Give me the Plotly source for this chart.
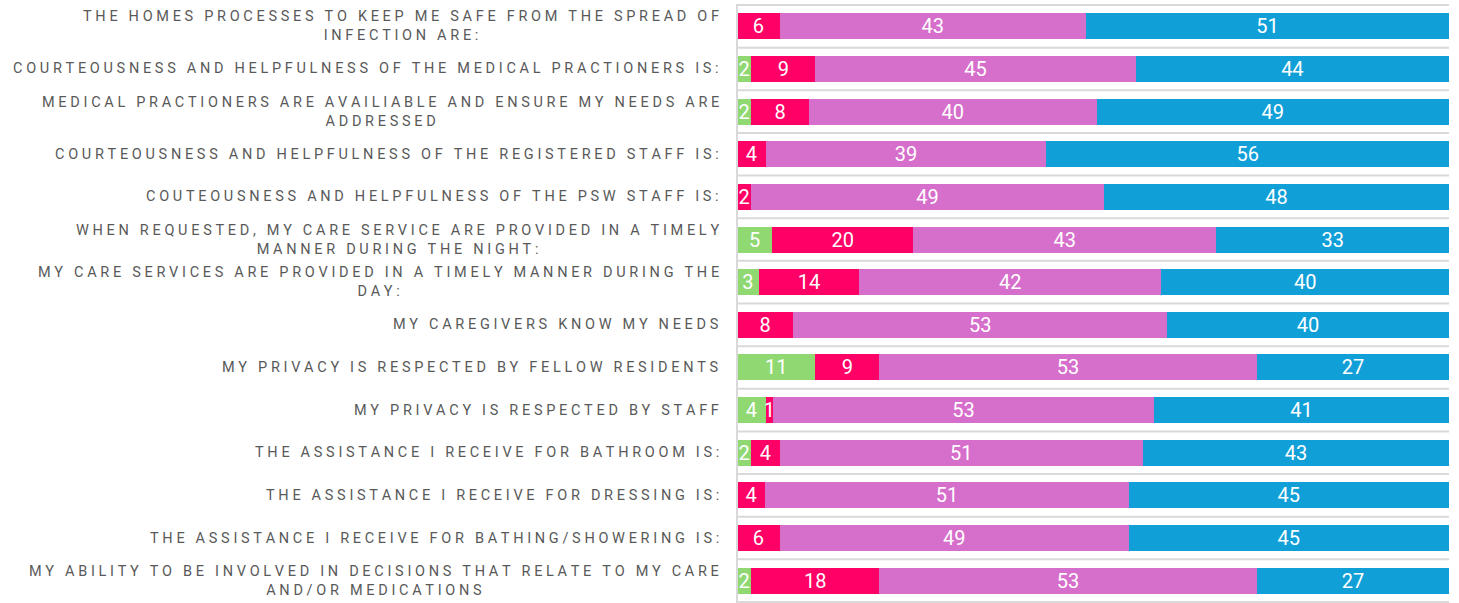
import plotly.graph_objects as go

questions = [
    "THE HOMES PROCESSES TO KEEP ME SAFE FROM THE SPREAD OF|INFECTION ARE:",
    "COURTEOUSNESS AND HELPFULNESS OF THE MEDICAL PRACTIONERS IS:",
    "MEDICAL PRACTIONERS ARE AVAILIABLE AND ENSURE MY NEEDS ARE|ADDRESSED",
    "COURTEOUSNESS AND HELPFULNESS OF THE REGISTERED STAFF IS:",
    "COUTEOUSNESS AND HELPFULNESS OF THE PSW STAFF IS:",
    "WHEN REQUESTED, MY CARE SERVICE ARE PROVIDED IN A TIMELY|MANNER DURING THE NIGHT:",
    "MY CARE SERVICES ARE PROVIDED IN A TIMELY MANNER DURING THE|DAY:",
    "MY CAREGIVERS KNOW MY NEEDS",
    "MY PRIVACY IS RESPECTED BY FELLOW RESIDENTS",
    "MY PRIVACY IS RESPECTED BY STAFF",
    "THE ASSISTANCE I RECEIVE FOR BATHROOM IS:",
    "THE ASSISTANCE I RECEIVE FOR DRESSING IS:",
    "THE ASSISTANCE I RECEIVE FOR BATHING/SHOWERING IS:",
    "MY ABILITY TO BE INVOLVED IN DECISIONS THAT RELATE TO MY CARE|AND/OR MEDICATIONS",
]

green = [0, 2, 2, 0, 0, 5, 3, 0, 11, 4, 2, 0, 0, 2]
red = [6, 9, 8, 4, 2, 20, 14, 8, 9, 1, 4, 4, 6, 18]
orchid = [43, 45, 40, 39, 49, 43, 42, 53, 53, 53, 51, 51, 49, 53]
blue = [51, 44, 49, 56, 48, 33, 40, 40, 27, 41, 43, 45, 45, 27]

series = [
    (green, "#8fd872"),
    (red, "#ff0066"),
    (orchid, "#d66ecb"),
    (blue, "#119fd8"),
]

cats = list(range(len(questions)))


def spaced(s):
    # fake letter spacing with four-per-em spaces
    lines = s.split("|")
    return "<br>".join("\u2005".join(list(ln)) for ln in lines)


fig = go.Figure()
for vals, col in series:
    fig.add_trace(go.Bar(
        y=cats, x=vals, orientation="h",
        marker=dict(color=col, line=dict(width=0)),
        text=[str(v) if v else "" for v in vals],
        texttemplate="%{text}",
        textposition="inside",
        insidetextanchor="middle",
        textangle=0,
        constraintext="none",
        textfont=dict(color="white", size=20, family="Roboto"),
        hoverinfo="skip",
    ))

for i, q in enumerate(questions):
    fig.add_annotation(
        x=0, xref="paper", xanchor="right", xshift=-16,
        y=i, yref="y", yanchor="middle",
        text=spaced(q), showarrow=False, align="center",
        font=dict(family="Roboto", size=14.5, color="#595959"),
    )

# row separators
for i in range(len(questions) + 1):
    fig.add_shape(type="line", xref="paper", x0=0, x1=1,
                  yref="y", y0=i - 0.5, y1=i - 0.5,
                  line=dict(color="#d9d9d9", width=2), layer="below")

fig.add_shape(type="line", xref="paper", x0=0, x1=0, yref="paper", y0=0, y1=1,
              line=dict(color="#d9d9d9", width=2))

fig.update_layout(
    barmode="stack",
    barnorm="percent",
    bargap=0.39,
    showlegend=False,
    width=1459, height=603,
    margin=dict(l=737, r=10, t=4, b=0),
    paper_bgcolor="white",
    plot_bgcolor="white",
    xaxis=dict(range=[0, 100], showgrid=False, zeroline=False,
               showticklabels=False, showline=False),
    yaxis=dict(autorange="reversed", showticklabels=False, showgrid=False,
               zeroline=False),
)

# drop the default 8px body margin so the figure sits at the window corner
fig.write_html("out.html", config={"displayModeBar": False},
               post_script="document.body.style.margin='0';")
